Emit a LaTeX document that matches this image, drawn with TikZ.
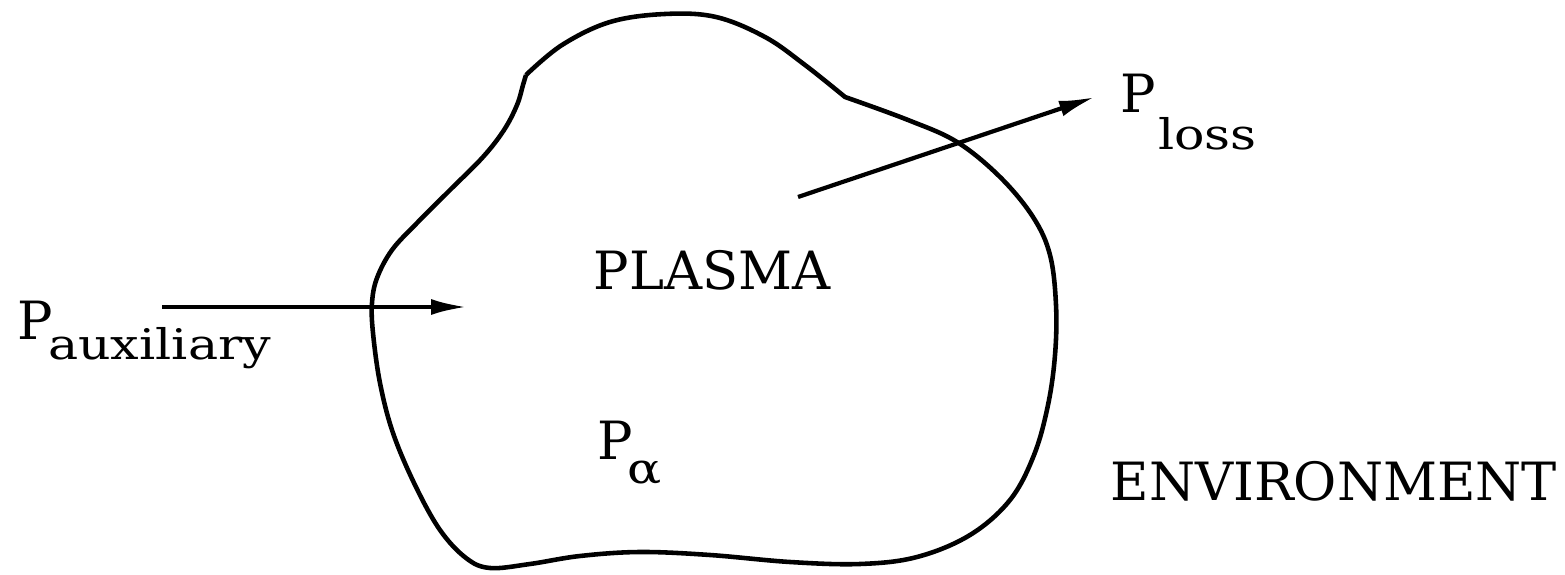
\documentclass[tikz,border=0pt]{standalone}
\usepackage{fontspec}
\setmainfont{DejaVu Serif}
\usetikzlibrary{arrows.meta,positioning}
\newcommand{\sublabel}[2]{\raisebox{-#1}{\scalebox{1.2}[1]{\fontsize{12}{14}\selectfont #2}}}

\begin{document}
\begin{tikzpicture}[y=-1cm,
  boundary/.style={line width=1.3pt, line join=round},
  flowarrow/.style={-{Latex[length=3.6mm,width=1.6mm]}, line width=1.2pt},
  powerlabel/.style={font=\fontsize{15}{18}\selectfont, inner sep=0pt, anchor=base west}]
  \useasboundingbox (0,0) rectangle (15.65,5.75);

  % Plasma boundary
  \draw[boundary] plot[smooth, tension=0.6] coordinates {(5.26,0.75) (5.62,0.45) (6.10,0.22) (6.65,0.14) (7.16,0.17) (7.65,0.37) (8.05,0.65) (8.45,0.97)}
    -- plot[smooth, tension=0.6] coordinates {(8.45,0.97) (9.08,1.20) (9.57,1.42) (10.00,1.77) (10.33,2.17) (10.50,2.55) (10.56,3.05) (10.55,3.55) (10.48,4.05) (10.34,4.55) (10.10,5.00) (9.70,5.35) (9.17,5.57) (8.60,5.64) (7.90,5.62) (7.10,5.55) (6.40,5.52) (5.80,5.56) (5.30,5.64) (4.90,5.68) (4.66,5.58) (4.40,5.30) (4.15,4.85) (3.93,4.33) (3.80,3.83) (3.73,3.33) (3.72,3.03) (3.77,2.78) (3.92,2.50) (4.17,2.23) (4.50,1.90) (4.83,1.57) (5.04,1.30) (5.17,1.05) (5.23,0.85) (5.26,0.75)};

  % Power flows
  \coordinate (auxStart) at (1.62,3.07);
  \coordinate (auxEnd) at (4.67,3.07);
  \coordinate (lossStart) at (7.98,1.97);
  \coordinate (lossEnd) at (10.95,0.97);
  \draw[flowarrow] (auxStart) -- (auxEnd);
  \draw[flowarrow] (lossStart) -- (lossEnd);

  % Labels
  \node[powerlabel] (paux) at (0.17,3.40) {P\kern-0.05cm\sublabel{0.2cm}{auxiliary}};
  \node[powerlabel] (ploss) at (11.20,1.13) {P\kern0.02cm\sublabel{0.37cm}{loss}};
  \node[powerlabel] (palpha) at (5.97,4.60) {P\kern-0.06cm\sublabel{0.23cm}{α}};
  \node[powerlabel] (plasma) at (5.93,2.90) {PLASMA};
  \node[powerlabel] (env) at (11.10,5.00) {ENVIRONMENT};
\end{tikzpicture}
\end{document}
